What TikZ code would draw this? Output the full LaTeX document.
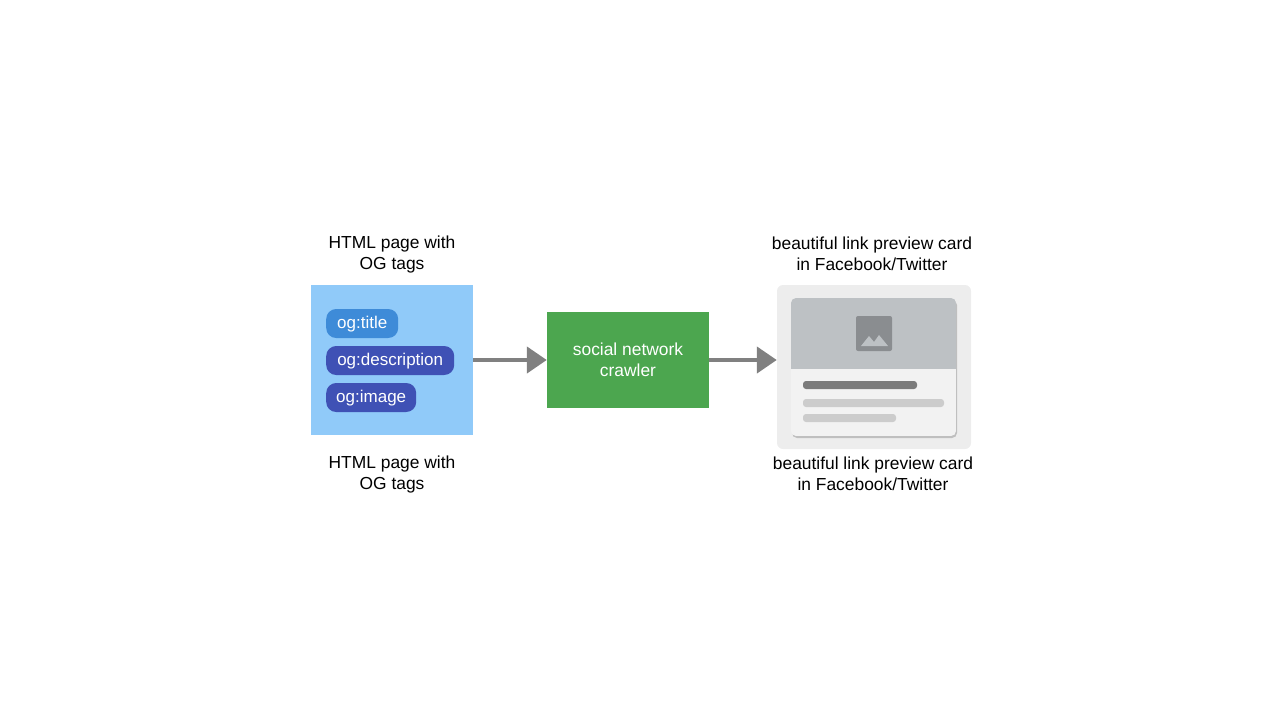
\documentclass[tikz,border=0pt]{standalone}
\usepackage{fontspec}
\setmainfont{Liberation Sans}
\usetikzlibrary{arrows.meta}
\definecolor{pageblue}{HTML}{90CAF9}
\definecolor{pillA}{HTML}{3E8BD8}
\definecolor{pillB}{HTML}{3F51B5}
\definecolor{crawl}{HTML}{4CA64F}
\definecolor{arr}{HTML}{808080}
\definecolor{cardtop}{HTML}{BDC1C4}
\definecolor{icon}{HTML}{8A8D90}
\definecolor{darkbar}{HTML}{7B7B7B}
\begin{document}
\begin{tikzpicture}[x=1pt,y=-1pt,
  lbl/.style={align=center,font=\fontsize{17.4}{21}\selectfont,text=black},
  pill/.style={rounded corners=10pt,inner sep=0pt,text=white,font=\fontsize{17}{17}\selectfont,minimum height=29pt,text height=11pt,text depth=1pt,anchor=west},
  flow/.style={draw=arr,line width=4.5pt,-{Triangle[length=20pt,width=26pt]}}]
\useasboundingbox (0,0) rectangle (1280,720);
\node[lbl] (l1) at (392,254) {HTML page with\\OG tags};
\node[lbl] (l2) at (392,474) {HTML page with\\OG tags};
\node[lbl] (r1) at (872,254) {beautiful link preview card\\in Facebook/Twitter};
\node[lbl] (r2) at (873,474) {beautiful link preview card\\in Facebook/Twitter};
\node[fill=pageblue,minimum width=162pt,minimum height=150pt,inner sep=0pt] (page) at (392,360) {};
\node[pill,fill=pillA,minimum width=72pt] (p1) at (326,323.5) {og:title};
\node[pill,fill=pillB,minimum width=128pt] (p2) at (326,360.5) {og:description};
\node[pill,fill=pillB,minimum width=90pt] (p3) at (326,397.5) {og:image};
\node[fill=crawl,minimum width=162pt,minimum height=96pt,inner sep=0pt,align=center,text=white,font=\fontsize{17.4}{21}\selectfont] (crawler) at (628,360) {social network\\crawler};
\node[fill=black!7,rounded corners=6pt,minimum width=194pt,minimum height=164pt,inner sep=0pt] (card) at (874,367) {};
\fill[black!25,rounded corners=5pt] (792,300) rectangle (957,438);
\begin{scope}
\clip[rounded corners=5pt] (791,298) rectangle (956,436);
\fill[black!5] (791,298) rectangle (956,436);
\fill[cardtop] (791,298) rectangle (956,369);
\end{scope}
\fill[icon,rounded corners=2pt] (856,316) rectangle (892,351);
\fill[cardtop] (861,346) -- (869,336) -- (874,342) -- (879,335) -- (888,346) -- cycle;
\fill[darkbar,rounded corners=3pt] (803,381) rectangle (917,389);
\fill[black!20,rounded corners=3pt] (803,399) rectangle (944,407);
\fill[black!20,rounded corners=3pt] (803,414) rectangle (896,422);
\draw[flow] (page.east) -- (crawler.west);
\draw[flow] (crawler.east) -- (card.west |- crawler.east);
\end{tikzpicture}
\end{document}
